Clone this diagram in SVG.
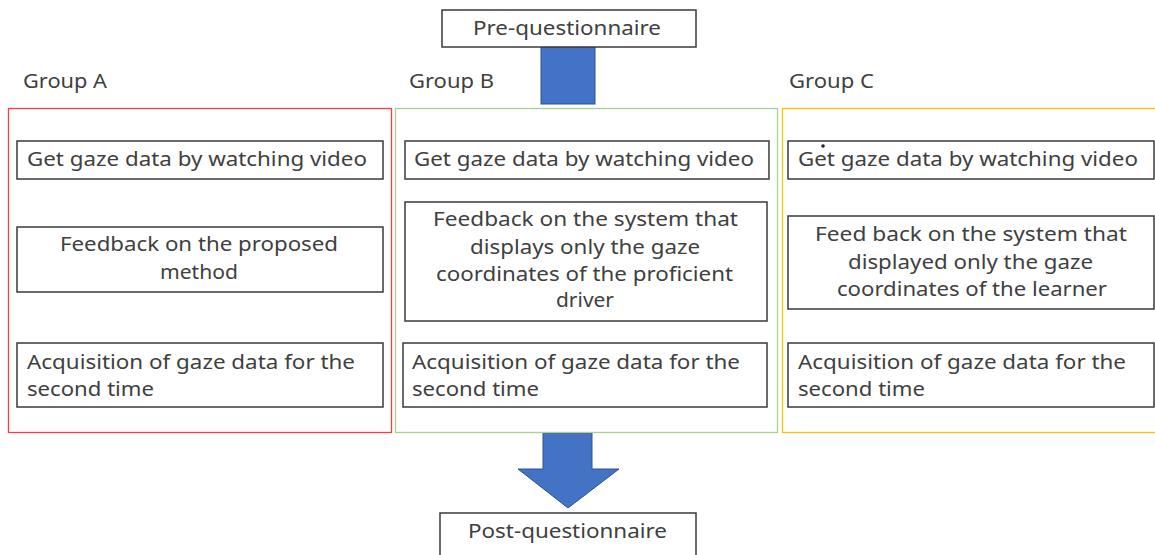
<svg xmlns="http://www.w3.org/2000/svg" width="1155" height="555" viewBox="0 0 1155 555">
<style>
.box{fill:#fff;stroke:#3a3a3a;stroke-width:1.5}
.t{font-family:"Noto Sans","Liberation Sans",sans-serif;font-size:20px;fill:#404040}
.blue{fill:#4472C4;stroke:#2F528F;stroke-width:1}
</style>
<rect width="1155" height="555" fill="#fff"/>
<g id="connectors">
<rect class="blue" x="541" y="47" width="54" height="57"/>
<path class="blue" d="M543,433 H592 V469 H619 L568,508 L518,469 H543 Z"/>
</g>
<g id="pre">
<rect class="box" x="442" y="10" width="254" height="37"/>
<text class="t" x="473" y="35" textLength="188" lengthAdjust="spacingAndGlyphs">Pre-questionnaire</text>
</g>
<g id="post">
<rect class="box" x="440" y="513" width="256" height="50"/>
<text class="t" x="468" y="538" textLength="199" lengthAdjust="spacingAndGlyphs">Post-questionnaire</text>
</g>
<g id="groupA">
<text class="t" x="23" y="88" textLength="84" lengthAdjust="spacingAndGlyphs">Group A</text>
<rect x="8.5" y="108.5" width="383" height="324" fill="none" stroke="#FF3B3B" stroke-width="1.3"/>
<g id="a1"><rect class="box" x="17" y="141" width="366" height="38"/>
<text class="t" x="27" y="166" textLength="340" lengthAdjust="spacingAndGlyphs">Get gaze data by watching video</text></g>
<g id="a2"><rect class="box" x="17" y="227" width="366" height="65"/>
<text class="t" x="60" y="251" textLength="278" lengthAdjust="spacingAndGlyphs">Feedback on the proposed</text>
<text class="t" x="160" y="279" textLength="78" lengthAdjust="spacingAndGlyphs">method</text></g>
<g id="a3"><rect class="box" x="17" y="343" width="366" height="64"/>
<text class="t" x="27" y="369" textLength="328" lengthAdjust="spacingAndGlyphs">Acquisition of gaze data for the</text>
<text class="t" x="27" y="396" textLength="127" lengthAdjust="spacingAndGlyphs">second time</text></g>
</g>
<g id="groupB">
<text class="t" x="409" y="88" textLength="85" lengthAdjust="spacingAndGlyphs">Group B</text>
<rect x="395.5" y="108.5" width="382" height="324" fill="none" stroke="#A9D18E" stroke-width="1.3"/>
<g id="b1"><rect class="box" x="405" y="141" width="364" height="38"/>
<text class="t" x="414" y="166" textLength="340" lengthAdjust="spacingAndGlyphs">Get gaze data by watching video</text></g>
<g id="b2"><rect class="box" x="405" y="202" width="362" height="119"/>
<text class="t" x="433" y="226" textLength="305" lengthAdjust="spacingAndGlyphs">Feedback on the system that</text>
<text class="t" x="470" y="254" textLength="230" lengthAdjust="spacingAndGlyphs">displays only the gaze</text>
<text class="t" x="436" y="281" textLength="297" lengthAdjust="spacingAndGlyphs">coordinates of the proficient</text>
<text class="t" x="556" y="307" textLength="58" lengthAdjust="spacingAndGlyphs">driver</text></g>
<g id="b3"><rect class="box" x="403" y="343" width="364" height="64"/>
<text class="t" x="412" y="369" textLength="328" lengthAdjust="spacingAndGlyphs">Acquisition of gaze data for the</text>
<text class="t" x="412" y="396" textLength="127" lengthAdjust="spacingAndGlyphs">second time</text></g>
</g>
<g id="groupC">
<text class="t" x="789" y="88" textLength="85" lengthAdjust="spacingAndGlyphs">Group C</text>
<rect x="782.5" y="108.5" width="390" height="324" fill="none" stroke="#FFC000" stroke-width="1.3"/>
<g id="c1"><rect class="box" x="788" y="141" width="366" height="38"/>
<text class="t" x="798" y="166" textLength="340" lengthAdjust="spacingAndGlyphs">Get gaze data by watching video</text>
<circle cx="823" cy="146" r="1.8" fill="#222"/></g>
<g id="c2"><rect class="box" x="788" y="216" width="366" height="93"/>
<text class="t" x="815" y="241" textLength="312" lengthAdjust="spacingAndGlyphs">Feed back on the system that</text>
<text class="t" x="848" y="269" textLength="245" lengthAdjust="spacingAndGlyphs">displayed only the gaze</text>
<text class="t" x="837" y="296" textLength="270" lengthAdjust="spacingAndGlyphs">coordinates of the learner</text></g>
<g id="c3"><rect class="box" x="788" y="343" width="366" height="64"/>
<text class="t" x="798" y="369" textLength="328" lengthAdjust="spacingAndGlyphs">Acquisition of gaze data for the</text>
<text class="t" x="798" y="396" textLength="127" lengthAdjust="spacingAndGlyphs">second time</text></g>
</g>
</svg>
